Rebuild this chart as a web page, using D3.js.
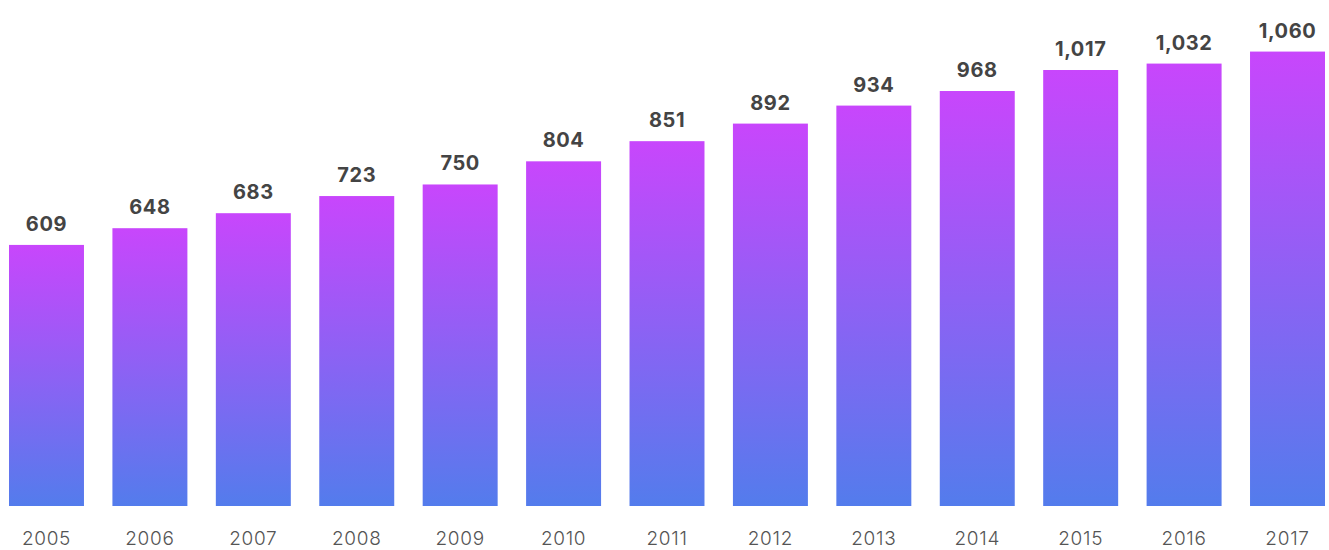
<!DOCTYPE html>
<html>
<head>
<meta charset="utf-8">
<script src="https://cdn.jsdelivr.net/npm/d3@7"></script>
<style>
  body { margin: 0; background: #fff; }
  svg { display: block; }
</style>
</head>
<body>
<svg id="chart"></svg>
<script>
// Data
const years = ["2005", "2006", "2007", "2008", "2009", "2010", "2011", "2012", "2013", "2014", "2015", "2016", "2017"];
const values = [609, 648, 683, 723, 750, 804, 851, 892, 934, 968, 1017, 1032, 1060];

const width = 1329, height = 550;
const svg = d3.select("#chart")
  .attr("width", width)
  .attr("height", height);

// gradient, one per bar box
const grad = svg.append("defs").append("linearGradient")
  .attr("id", "barGrad")
  .attr("x1", 0).attr("y1", 0)
  .attr("x2", 0).attr("y2", 1);
grad.append("stop").attr("offset", "0%").attr("stop-color", "#c846fc");
grad.append("stop").attr("offset", "100%").attr("stop-color", "#537cec");

const x = d3.scaleBand()
  .domain(years)
  .range([9, 1325])
  .paddingInner(0.275)
  .paddingOuter(0);

const y = d3.scaleLinear()
  .domain([0, 1080])
  .range([506, 43]);

const data = years.map((yr, i) => ({ year: yr, value: values[i] }));

svg.selectAll("rect.bar")
  .data(data)
  .join("rect")
  .attr("class", "bar")
  .attr("x", d => x(d.year))
  .attr("y", d => y(d.value))
  .attr("width", x.bandwidth())
  .attr("height", d => y(0) - y(d.value))
  .attr("fill", "url(#barGrad)");

// value labels
svg.selectAll("text.val")
  .data(data)
  .join("text")
  .attr("class", "val")
  .attr("x", d => x(d.year) + x.bandwidth() / 2)
  .attr("y", d => y(d.value) - 14)
  .attr("text-anchor", "middle")
  .attr("font-family", "Inter, 'Open Sans', sans-serif")
  .attr("font-weight", 700)
  .attr("font-size", "20px")
  .attr("letter-spacing", "0.6px")
  .attr("fill", "#444")
  .text(d => d3.format(",")(d.value));

// x axis labels
const xAxis = svg.append("g")
  .attr("transform", "translate(0,506)")
  .call(d3.axisBottom(x).tickSize(0).tickPadding(0));
xAxis.select(".domain").remove();
xAxis.selectAll("text")
  .attr("y", 39)
  .attr("dy", 0)
  .attr("font-family", "Inter, 'Open Sans', sans-serif")
  .attr("font-weight", 300)
  .attr("font-size", "19px")
  .attr("letter-spacing", "0.7px")
  .attr("fill", "#555");
</script>
</body>
</html>
